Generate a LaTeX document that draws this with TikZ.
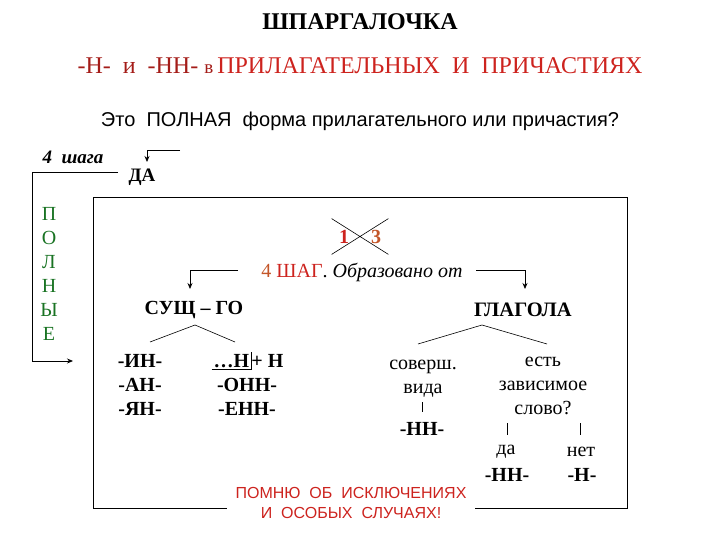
\documentclass[tikz,border=0pt]{standalone}
\usepackage{fontspec}
\setmainfont{Liberation Serif}
\setsansfont{Liberation Sans}
\usetikzlibrary{arrows.meta}
\definecolor{hred}{RGB}{205,35,30}
\definecolor{hbrown}{RGB}{195,85,40}
\definecolor{hgreen}{RGB}{25,115,35}
\tikzset{
  txt/.style={inner sep=0pt, font=\fontsize{20}{24}\selectfont, align=center},
  bld/.style={inner sep=0pt, font=\fontsize{20}{24}\selectfont\bfseries, align=center},
  vert/.style={inner sep=0pt, font=\fontsize{20}{22}\selectfont, text=hgreen},
  tip/.style={-{Stealth[length=6pt,width=5pt]}},
}
\begin{document}
\begin{tikzpicture}[x=1pt,y=-1pt,line width=0.8pt]
  \useasboundingbox (0,0) rectangle (720,540);
  % heading
  \node[inner sep=0pt, font=\fontsize{24}{26}\selectfont\bfseries] (title) at (360,22) {ШПАРГАЛОЧКА};
  \node[inner sep=0pt, font=\fontsize{24}{26}\selectfont, text=hred] (sub) at (360,66)
    {{\color{hred!80!black}-Н-\ \ и\ \ -НН-\ {\fontsize{19}{20}\selectfont в}}\,ПРИЛАГАТЕЛЬНЫХ\ \ И\ \ ПРИЧАСТИЯХ};
  \node[inner sep=0pt, font=\fontsize{20}{22}\sffamily] (ask) at (360,121)
    {Это\ \ ПОЛНАЯ\ \ форма прилагательного или причастия?};
  % left part
  \node[inner sep=0pt, font=\fontsize{19}{20}\selectfont\bfseries\itshape] (steps) at (73,157) {4\ \ шага};
  \node[bld, font=\fontsize{19}{20}\selectfont\bfseries] (yes) at (142,177) {ДА};
  \coordinate (yesin) at (180,150);
  \coordinate (yesout) at (147,162);
  \draw[tip] (yesin) -| (yesout);
  \coordinate (lineA) at (118,172);
  \coordinate (lineB) at (32,361);
  \coordinate (lineC) at (73,361);
  \draw[tip] (lineA) -| (lineB) -- (lineC);
  \foreach \l [count=\i] in {П,О,Л,Н,Ы,Е}
    \node[vert] (v\i) at (49,190+24*\i) {\l};
  % frame
  \coordinate (frameNW) at (93,197);
  \coordinate (frameSE) at (627,508);
  \draw (frameNW) rectangle (frameSE);
  % crossed 1-3
  \node[inner sep=0pt, minimum width=56pt, minimum height=35pt,
        font=\fontsize{20}{22}\selectfont\bfseries] (cross) at (360,236.5)
    {{\color{hred}1}\hspace{22pt}{\color{hbrown}3}};
  \draw[line width=0.6pt] (cross.north west) -- (cross.south east)
    (cross.south west) -- (cross.north east);
  \node[txt] (step4) at (362,272)
    {{\color{hbrown}4} {\color{hred}ШАГ}. \textit{Образовано от}};
  \coordinate (leftin) at (238,270);
  \coordinate (leftout) at (190,289);
  \coordinate (rightin) at (476,270);
  \coordinate (rightout) at (525,289);
  \draw[tip] (leftin) -| (leftout);
  \draw[tip] (rightin) -| (rightout);
  \node[bld] (noun) at (194,310) {СУЩ – ГО};
  \node[bld, font=\fontsize{20.5}{22}\selectfont\bfseries] (verb) at (523,310) {ГЛАГОЛА};
  % noun branch
  \coordinate (nA) at (195,325);
  \coordinate (nL) at (150,342);
  \coordinate (nR) at (235,342);
  \draw[line width=0.6pt] (nL) -- (nA) -- (nR);
  \node[bld] (suf) at (140,385) {-ИН-\\-АН-\\-ЯН-};
  \node[bld, inner sep=1.5pt, anchor=east] (stem) at (251,361) {…Н};
  \node[bld, anchor=west] (plus) at (stem.east) {+ Н};
  \draw[line width=0.6pt] (stem.south west) -| (stem.north east);
  \node[bld] (onn) at (247,385) {-ОНН-};
  \node[bld] (enn) at (247,409) {-ЕНН-};
  % verb branch
  \coordinate (vA) at (482,325);
  \coordinate (vL) at (418,344);
  \coordinate (vR) at (547,344);
  \draw[line width=0.6pt] (vL) -- (vA) -- (vR);
  \node[txt] (perf) at (423,379) {соверш.\\вида};
  \node[bld] (nn1) at (422,429) {-НН-};
  \coordinate (t1a) at (422,402);
  \coordinate (t1b) at (422,412);
  \draw[line width=0.6pt] (t1a) -- (t1b);
  \node[txt] (word) at (543,385.5) {есть\\зависимое\\слово?};
  \coordinate (t2a) at (507,423);
  \coordinate (t2b) at (507,435);
  \coordinate (t3a) at (580,423);
  \coordinate (t3b) at (580,435);
  \draw[line width=0.6pt] (t2a) -- (t2b) (t3a) -- (t3b);
  \node[txt] (da) at (506,452) {да};
  \node[txt] (net) at (581,452) {нет};
  \node[bld] (nn2) at (507,475) {-НН-};
  \node[bld] (n1) at (582,475) {-Н-};
  % note
  \node[fill=white, inner xsep=9pt, inner ysep=3pt, align=center, text=hred,
        font=\fontsize{16}{20}\sffamily] (note) at (351,503)
    {ПОМНЮ\ \ ОБ\ \ ИСКЛЮЧЕНИЯХ\\И\ \ ОСОБЫХ\ \ СЛУЧАЯХ!};
\end{tikzpicture}
\end{document}
